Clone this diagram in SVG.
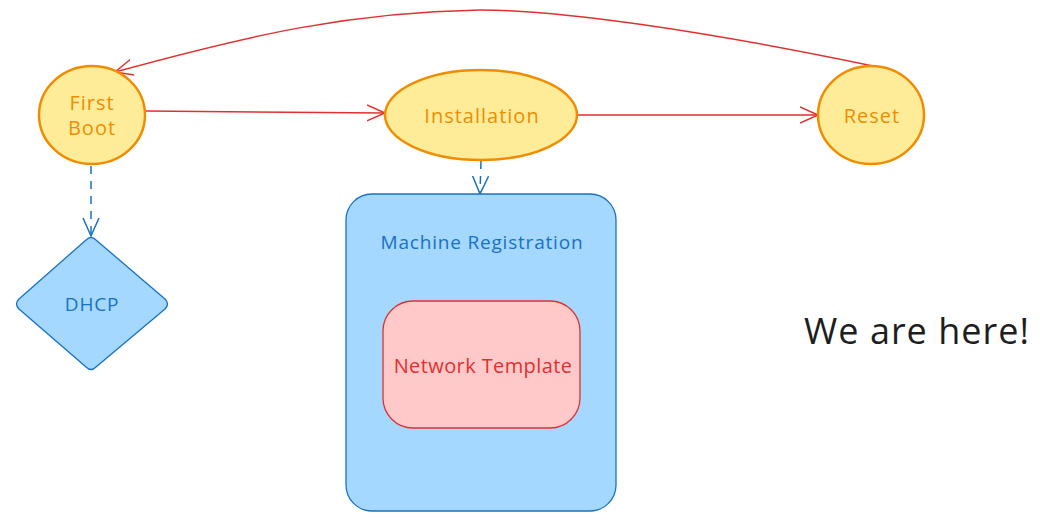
<svg xmlns="http://www.w3.org/2000/svg" width="1040" height="521" viewBox="0 0 1040 521">
<style>
.state{fill:#ffec99;stroke:#f08c00;stroke-width:2.5}
.stxt{fill:#f08c00;font-family:"Open Sans",sans-serif;font-size:20px;letter-spacing:1px;text-anchor:middle;dominant-baseline:central}
.red{fill:none;stroke:#e03131;stroke-width:1.5;stroke-linecap:round}
.blue{fill:none;stroke:#1971c2;stroke-width:1.5;stroke-dasharray:8 7}
.bluebox{fill:#a5d8ff;stroke:#1971c2;stroke-width:1.3}
.btxt{fill:#1971c2;font-family:"Open Sans",sans-serif;font-size:19px;letter-spacing:0.8px;text-anchor:middle;dominant-baseline:central}
</style>
<defs>
<marker id="ar" markerWidth="20" markerHeight="20" refX="18" refY="10" orient="auto" markerUnits="userSpaceOnUse"><path d="M0,2 L18,10 L0,18" fill="none" stroke="#e03131" stroke-width="1.5"/></marker>
<marker id="ab" markerWidth="20" markerHeight="20" refX="18" refY="10" orient="auto" markerUnits="userSpaceOnUse"><path d="M0,2 L18,10 L0,18" fill="none" stroke="#1971c2" stroke-width="1.5"/></marker>
</defs>
<g id="connectors">
<path class="red" d="M146,111 L385,113" marker-end="url(#ar)"/>
<path class="red" d="M578,115 L818,115" marker-end="url(#ar)"/>
<path class="red" d="M873,66 C700,30 560,10 480,10 C350,12 250,35 115,72" marker-end="url(#ar)"/>
<path class="blue" d="M91,166 L91,236" marker-end="url(#ab)"/>
<path class="blue" d="M481,161 L480,194" marker-end="url(#ab)"/>
</g>
<g id="first-boot">
<ellipse class="state" cx="92" cy="115" rx="53" ry="49"/>
<text class="stxt" x="92" y="102">First</text>
<text class="stxt" x="92" y="127">Boot</text>
</g>
<g id="installation">
<ellipse class="state" cx="481" cy="115" rx="96" ry="45"/>
<text class="stxt" x="482" y="115">Installation</text>
</g>
<g id="reset">
<ellipse class="state" cx="871" cy="115" rx="53" ry="49"/>
<text class="stxt" x="872" y="115">Reset</text>
</g>
<g id="dhcp">
<path class="bluebox" d="M86,240 Q91,235 96,240 L165,299 Q170,304 165,309 L96,367 Q91,372 86,367 L19,309 Q14,304 19,299 Z"/>
<text class="btxt" x="92" y="304">DHCP</text>
</g>
<g id="machine-registration">
<rect class="bluebox" x="346" y="194" width="270" height="317" rx="26"/>
<text class="btxt" x="482" y="242">Machine Registration</text>
</g>
<g id="network-template">
<rect x="383" y="301" width="197" height="127" rx="30" fill="#ffc9c9" stroke="#e03131" stroke-width="1.3"/>
<text x="483" y="365" fill="#e03131" font-family="Open Sans, sans-serif" font-size="20" letter-spacing="0.4" text-anchor="middle" dominant-baseline="central">Network Template</text>
</g>
<g id="note">
<text x="917" y="330" fill="#1e1e1e" font-family="Open Sans, sans-serif" font-size="36" letter-spacing="1" text-anchor="middle" dominant-baseline="central">We are here!</text>
</g>
</svg>
